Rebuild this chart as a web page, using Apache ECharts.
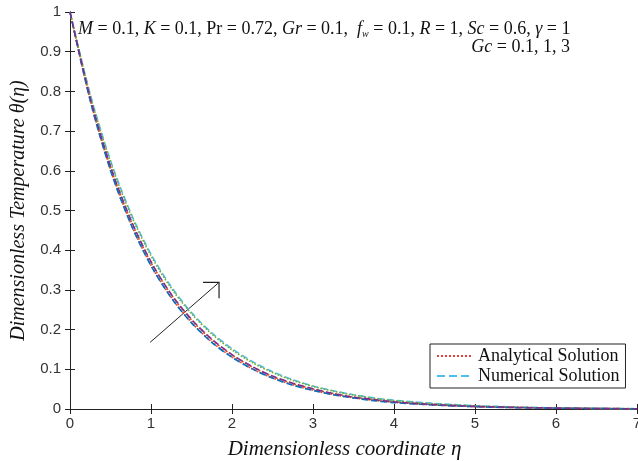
<!DOCTYPE html>
<html>
<head>
<meta charset="utf-8">
<script src="https://cdn.jsdelivr.net/npm/echarts@6/dist/echarts.min.js"></script>
<style>
html,body{margin:0;padding:0;background:#fff;}
#chart{width:638px;height:461px;}
</style>
</head>
<body>
<div id="chart"></div>
<script>
// ---- data ----
var eta = [0, 0.25, 0.5, 0.75, 1, 1.25, 1.5, 1.75, 2, 2.25, 2.5, 2.75, 3, 3.25, 3.5, 3.75, 4, 4.5, 5, 5.5, 6, 6.5, 7];
var anaGc01 = [1, 0.778, 0.603, 0.468, 0.362, 0.281, 0.218, 0.169, 0.131, 0.101, 0.078, 0.061, 0.047, 0.036, 0.028, 0.022, 0.017, 0.010, 0.006, 0.0035, 0.002, 0.001, 0.0005];
var anaGc1  = [1, 0.782, 0.609, 0.475, 0.369, 0.288, 0.224, 0.175, 0.136, 0.106, 0.082, 0.064, 0.050, 0.039, 0.030, 0.023, 0.018, 0.011, 0.0065, 0.004, 0.0022, 0.0012, 0.0006];
var anaGc3  = [1, 0.790, 0.622, 0.490, 0.386, 0.304, 0.240, 0.189, 0.149, 0.117, 0.092, 0.072, 0.057, 0.045, 0.035, 0.027, 0.021, 0.013, 0.008, 0.0045, 0.0026, 0.0014, 0.0007];
var numGc01 = [1, 0.776, 0.601, 0.466, 0.361, 0.280, 0.217, 0.168, 0.130, 0.101, 0.078, 0.060, 0.047, 0.036, 0.028, 0.021, 0.016, 0.010, 0.006, 0.0034, 0.002, 0.001, 0.0005];
var numGc1  = [1, 0.783, 0.611, 0.477, 0.371, 0.289, 0.226, 0.176, 0.137, 0.107, 0.083, 0.065, 0.051, 0.039, 0.030, 0.024, 0.018, 0.011, 0.0066, 0.004, 0.0023, 0.0012, 0.0006];
var numGc3  = [1, 0.793, 0.626, 0.494, 0.390, 0.308, 0.243, 0.192, 0.152, 0.120, 0.094, 0.074, 0.058, 0.046, 0.036, 0.028, 0.022, 0.014, 0.0085, 0.005, 0.0028, 0.0015, 0.0008];
var xTicks = [0, 1, 2, 3, 4, 5, 6, 7];
var yTicks = [0, 0.1, 0.2, 0.3, 0.4, 0.5, 0.6, 0.7, 0.8, 0.9, 1];
var legendNames = ['Analytical Solution', 'Numerical Solution'];

function pairs(ys){ return eta.map(function(x,i){ return [x, ys[i]]; }); }

var serif = 'Liberation Serif, Times New Roman, serif';
var sans = 'Liberation Sans, Arial, sans-serif';

var chart = echarts.init(document.getElementById('chart'), null, {renderer:'canvas'});

function mk(name, data, color, type){
  return {
    name: name, type: 'line', xAxisIndex: 0, yAxisIndex: 0,
    data: pairs(data), smooth: 0.3, symbol: 'none', showSymbol: false,
    lineStyle: {color: color, width: 1.6, type: type},
    itemStyle: {color: color},
    emphasis: {disabled: true}, animation: false
  };
}

var option = {
  animation: false,
  backgroundColor: '#fff',
  grid: {left: 70, right: 1, top: 12, bottom: 52, containLabel: false, outerBoundsMode: 'none'},
  legend: {
    data: legendNames,
    orient: 'vertical',
    left: 430, top: 344,
    padding: [3, 6, 3, 6],
    itemGap: 2,
    itemWidth: 36, itemHeight: 14,
    borderColor: '#222', borderWidth: 1, borderRadius: 0,
    backgroundColor: '#fff',
    itemStyle: {opacity: 0},
    textStyle: {fontFamily: serif, fontSize: 18, color: '#111'},
    selectedMode: false
  },
  xAxis: [{
    type: 'value', min: 0, max: 7, interval: 1, position: 'bottom',
    name: 'Dimensionless coordinate η', nameLocation: 'middle', nameGap: 30,
    nameTextStyle: {fontFamily: serif, fontStyle: 'italic', fontSize: 21, color: '#111', padding: [0, 18, 0, 0]},
    axisLine: {show: true, lineStyle: {color: '#222', width: 1}},
    axisTick: {show: true, inside: true, length: 5, lineStyle: {color: '#222'}},
    axisLabel: {fontFamily: sans, fontSize: 15, color: '#333', margin: 7},
    splitLine: {show: false}
  }, {
    type: 'value', min: 0, max: 7, interval: 1, position: 'top',
    axisLine: {show: true, lineStyle: {color: '#222', width: 1}},
    axisTick: {show: true, inside: true, length: 5, lineStyle: {color: '#222'}},
    axisLabel: {show: false}, splitLine: {show: false}
  }],
  yAxis: [{
    type: 'value', min: 0, max: 1, interval: 0.1, position: 'left',
    name: 'Dimensionless Temperature θ(η)', nameLocation: 'middle', nameGap: 40,
    nameTextStyle: {fontFamily: serif, fontStyle: 'italic', fontSize: 20, color: '#111'},
    axisLine: {show: true, lineStyle: {color: '#222', width: 1}},
    axisTick: {show: true, inside: true, length: 5, lineStyle: {color: '#222'}},
    axisLabel: {fontFamily: sans, fontSize: 15, color: '#333', margin: 9,
      formatter: function(v){ return String(Math.round(v*10)/10); }},
    splitLine: {show: false}
  }, {
    type: 'value', min: 0, max: 1, interval: 0.1, position: 'right',
    axisLine: {show: true, lineStyle: {color: '#222', width: 1}},
    axisTick: {show: true, inside: true, length: 5, lineStyle: {color: '#222'}},
    axisLabel: {show: false}, splitLine: {show: false}
  }],
  series: [
    mk(legendNames[0], anaGc01, '#e8413a', 'dotted'),
    mk(legendNames[1], numGc3, '#4DBEEE', 'dashed'),
    mk(legendNames[0], anaGc1, '#D95319', 'dotted'),
    mk(legendNames[0], anaGc3, '#77AC30', 'dotted'),
    mk(legendNames[1], numGc01, '#0072BD', 'dashed'),
    mk(legendNames[1], numGc1, '#7E2F8E', 'dashed')
  ]
};
chart.setOption(option);

// annotations
var p0 = chart.convertToPixel({xAxisIndex:0, yAxisIndex:0}, [0.99, 0.168]);
var p1 = chart.convertToPixel({xAxisIndex:0, yAxisIndex:0}, [1.84, 0.319]);
var rich = {
  i: {fontFamily: serif, fontStyle: 'italic', fontSize: 18, fill: '#111'},
  n: {fontFamily: serif, fontSize: 18, fill: '#111'},
  s: {fontFamily: serif, fontStyle: 'italic', fontSize: 10, fill: '#111', padding: [10, 0, 0, 0]}
};
chart.setOption({
  graphic: [
    {type: 'text', left: 78, top: 20, silent: true,
     style: {text: '{i|M}{n| = 0.1, }{i|K}{n| = 0.1, Pr = 0.72, }{i|Gr}{n| = 0.1,  }{i|f}{s|w}{n| = 0.1, }{i|R}{n| = 1, }{i|Sc}{n| = 0.6, }{i|γ}{n| = 1}',
            rich: rich, font: '18px ' + serif}},
    {type: 'text', right: 68, top: 38, silent: true,
     style: {text: '{i|Gc}{n| = 0.1, 1, 3}', rich: rich, font: '18px ' + serif}},
    {type: 'polyline', silent: true,
     shape: {points: [p0, p1]}, style: {stroke: '#222', lineWidth: 1, fill: null}},
    {type: 'polyline', silent: true,
     shape: {points: [[p1[0]-16, p1[1]], [p1[0], p1[1]], [p1[0], p1[1]+16]]},
     style: {stroke: '#222', lineWidth: 1.2, fill: null}}
  ]
});
</script>
</body>
</html>
